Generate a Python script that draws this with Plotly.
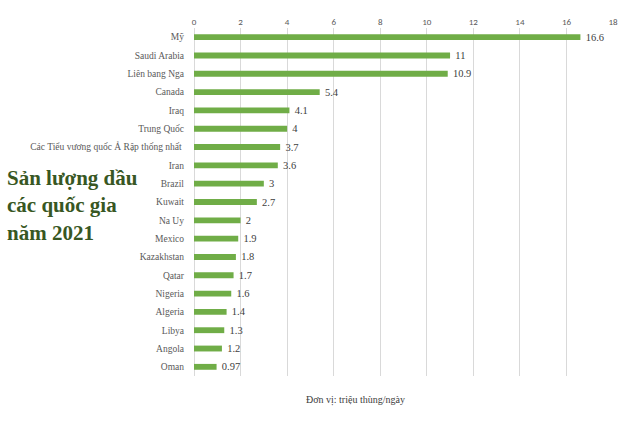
import plotly.graph_objects as go

countries = ["Mỹ", "Saudi Arabia", "Liên bang Nga", "Canada", "Iraq", "Trung Quốc",
             "Các Tiểu vương quốc Ả Rập thống nhất ", "Iran", "Brazil", "Kuwait", "Na Uy",
             "Mexico", "Kazakhstan", "Qatar", "Nigeria", "Algeria", "Libya", "Angola", "Oman"]
values = [16.6, 11, 10.9, 5.4, 4.1, 4, 3.7, 3.6, 3, 2.7, 2, 1.9, 1.8, 1.7, 1.6, 1.4, 1.3, 1.2, 0.97]
value_labels = ["16.6", "11", "10.9", "5.4", "4.1", "4", "3.7", "3.6", "3", "2.7", "2",
                "1.9", "1.8", "1.7", "1.6", "1.4", "1.3", "1.2", "0.97"]
x_ticks = [0, 2, 4, 6, 8, 10, 12, 14, 16, 18]
title_lines = ["Sản lượng dầu", "các quốc gia", "năm 2021"]

L, T, W, H = 194, 28, 419, 348

fig = go.Figure()
fig.add_trace(go.Bar(
    x=values, y=countries, orientation="h",
    marker=dict(color="#70AD47", line=dict(width=0)),
    width=0.32,
    text=["  " + t for t in value_labels],
    textposition="outside",
    constraintext="none",
    cliponaxis=False,
    textfont=dict(family="Liberation Serif", size=10.5, color="#404040"),
))

fig.update_layout(
    width=640, height=428,
    margin=dict(l=L, r=640 - L - W, t=T, b=428 - T - H),
    paper_bgcolor="white", plot_bgcolor="white",
    showlegend=False,
    xaxis=dict(range=[0, 18], tickvals=x_ticks, side="top",
               showgrid=True, gridcolor="#D9D9D9", gridwidth=1,
               zeroline=True, zerolinecolor="#D9D9D9", zerolinewidth=1,
               showline=False, ticks="",
               tickfont=dict(family="Carlito, Liberation Sans", size=9, color="#595959")),
    yaxis=dict(autorange="reversed", showgrid=False, ticks="", showline=False,
               ticklabelstandoff=9,
               tickfont=dict(family="Liberation Serif", size=9.5, color="#595959")),
    font=dict(family="Liberation Serif"),
)

fig.add_annotation(
    x=(5 - L) / W, y=1 - (205 - T) / H, xref="paper", yref="paper",
    xanchor="left", yanchor="middle",
    text="<b>" + "<br>".join(title_lines) + "</b>",
    showarrow=False, align="left",
    font=dict(family="Liberation Serif", size=21, color="#385723"),
)

fig.add_annotation(
    x=(355 - L) / W, y=1 - (408 - T) / H, xref="paper", yref="paper",
    text="Đơn vị: triệu thùng/ngày", showarrow=False,
    font=dict(family="Liberation Serif", size=10, color="#404040"),
)

fig.write_html("out.html")
